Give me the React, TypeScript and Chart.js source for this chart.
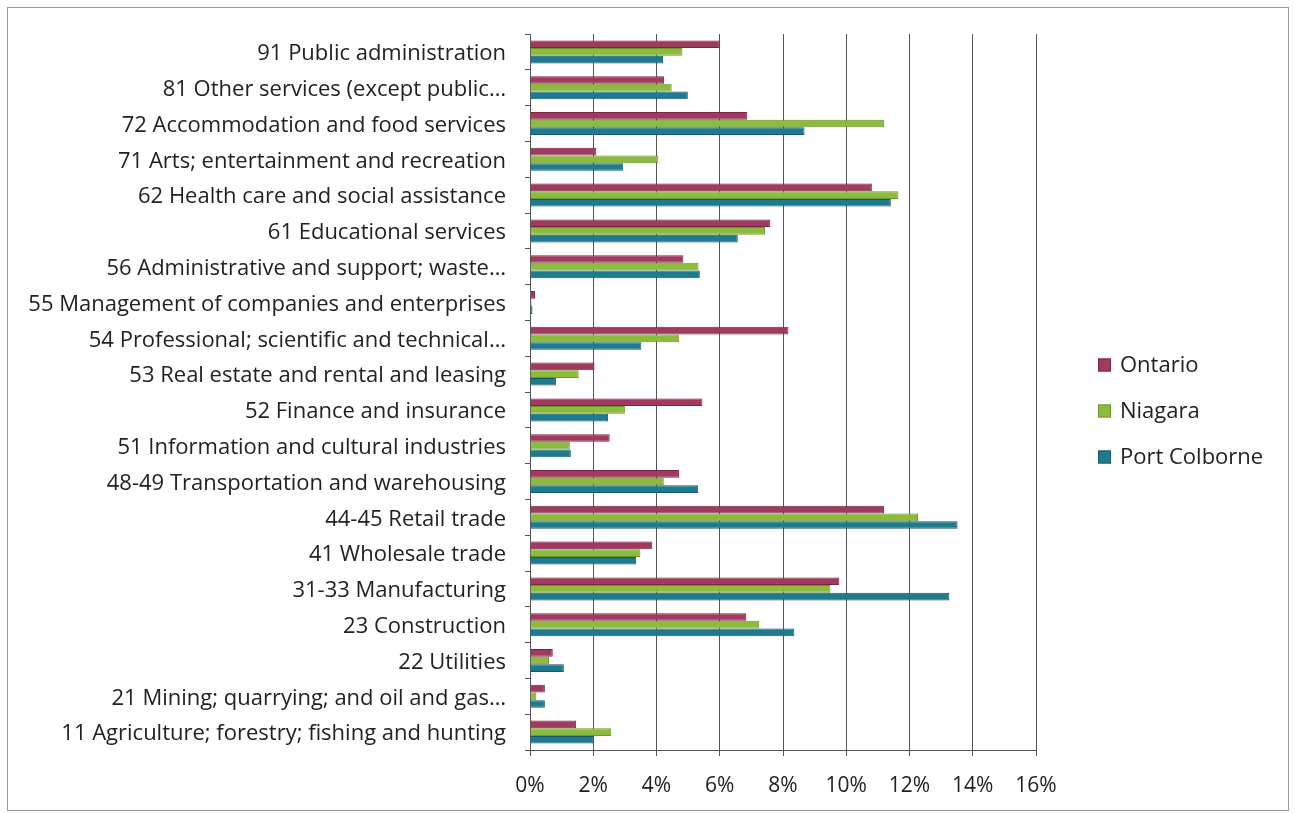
import React, { useEffect, useRef } from "react";
import { Chart, registerables } from "chart.js";

Chart.register(...registerables);

const categories = [
  "91 Public administration",
  "81 Other services (except public…",
  "72 Accommodation and food services",
  "71 Arts; entertainment and recreation",
  "62 Health care and social assistance",
  "61 Educational services",
  "56 Administrative and support; waste…",
  "55 Management of companies and enterprises",
  "54 Professional; scientific and technical…",
  "53 Real estate and rental and leasing",
  "52 Finance and insurance",
  "51 Information and cultural industries",
  "48-49 Transportation and warehousing",
  "44-45 Retail trade",
  "41 Wholesale trade",
  "31-33 Manufacturing",
  "23 Construction",
  "22 Utilities",
  "21 Mining; quarrying; and oil and gas…",
  "11 Agriculture; forestry; fishing and hunting",
];

const ontario = [6.0, 4.24, 6.87, 2.1, 10.81, 7.6, 4.85, 0.16, 8.17, 2.04, 5.45, 2.52, 4.71, 11.2, 3.87, 9.78, 6.84, 0.72, 0.47, 1.46];
const niagara = [4.82, 4.48, 11.2, 4.06, 11.65, 7.43, 5.33, 0.05, 4.72, 1.54, 3.0, 1.26, 4.23, 12.27, 3.49, 9.5, 7.25, 0.6, 0.2, 2.57];
const portColborne = [4.21, 4.99, 8.68, 2.95, 11.41, 6.57, 5.37, 0.08, 3.52, 0.82, 2.47, 1.29, 5.32, 13.52, 3.36, 13.26, 8.36, 1.07, 0.47, 2.0];

const seriesNames = ["Ontario", "Niagara", "Port Colborne"];
const xTicks = [0, 2, 4, 6, 8, 10, 12, 14, 16];

const FONT = "'Open Sans', Lato, sans-serif";
const W = 1280;
const H = 802;

const legendPlugin = {
  id: "sideLegend",
  afterDraw(chart: any) {
    const { ctx, chartArea } = chart;
    const x0 = chartArea.right + 62;
    const yMid = chart.height / 2 + 2;
    ctx.save();
    ctx.font = `22px ${FONT}`;
    ctx.textBaseline = "middle";
    ctx.textAlign = "left";
    chart.data.datasets.forEach((ds: any, i: number) => {
      const yc = yMid + (i - 1) * 46;
      ctx.fillStyle = ds.backgroundColor;
      ctx.fillRect(x0, yc - 6.5, 13, 13);
      ctx.strokeStyle = ds.borderColor;
      ctx.lineWidth = 1;
      ctx.strokeRect(x0 + 0.5, yc - 6, 12, 12);
      ctx.fillStyle = "#222";
      ctx.fillText(ds.label, x0 + 22, yc + 1);
    });
    ctx.restore();
  },
};

export default function App() {
  const ref = useRef<HTMLCanvasElement>(null);

  useEffect(() => {
    if (!ref.current) return;
    const chart = new Chart(ref.current, {
      type: "bar",
      data: {
        labels: categories,
        datasets: [
          {
            label: seriesNames[0],
            data: ontario,
            backgroundColor: "#A03A5E",
            borderColor: "#7A2444",
            borderWidth: 1,
          },
          {
            label: seriesNames[1],
            data: niagara,
            backgroundColor: "#8CBC3E",
            borderColor: "#6E962C",
            borderWidth: 1,
          },
          {
            label: seriesNames[2],
            data: portColborne,
            backgroundColor: "#1E7B8E",
            borderColor: "#155A6A",
            borderWidth: 1,
          },
        ],
      },
      options: {
        indexAxis: "y",
        animation: false,
        responsive: false,
        maintainAspectRatio: false,
        layout: { padding: { top: 26, right: 252, bottom: 0, left: 0 } },
        datasets: {
          bar: { categoryPercentage: 0.643, barPercentage: 1.0 },
        },
        plugins: {
          legend: { display: false },
          tooltip: { enabled: false },
        },
        scales: {
          x: {
            type: "linear",
            min: 0,
            max: 16,
            afterBuildTicks: (scale: any) => {
              scale.ticks = xTicks.map((v) => ({ value: v }));
            },
            afterFit: (scale: any) => {
              scale.height = 60;
              scale.paddingLeft = 0;
            },
            ticks: {
              stepSize: 2,
              padding: 17,
              color: "#222",
              font: { family: FONT, size: 21 },
              callback: (v: any) => `${v}%`,
            },
            grid: {
              color: "#555",
              lineWidth: 1,
              drawTicks: true,
              tickLength: 6,
            },
            border: { display: true, color: "#555", width: 1 },
          },
          y: {
            type: "category",
            afterFit: (scale: any) => {
              scale.width = 522;
              scale.paddingTop = 0;
              scale.paddingBottom = 0;
            },
            ticks: {
              padding: 19,
              labelOffset: 2,
              color: "#222",
              autoSkip: false,
              font: { family: FONT, size: 22 },
            },
            grid: {
              display: true,
              drawOnChartArea: false,
              drawTicks: true,
              tickLength: 5,
              color: "#555",
              offset: true,
            },
            border: { display: true, color: "#555", width: 1 },
          },
        },
      },
      plugins: [legendPlugin],
    });
    return () => chart.destroy();
  }, []);

  return (
    <div
      style={{
        position: "absolute",
        left: 7,
        top: 7,
        width: W,
        height: H,
        border: "1px solid #9a9a9a",
        background: "#fff",
      }}
    >
      <canvas ref={ref} width={W} height={H} style={{ display: "block", width: W, height: H }} />
    </div>
  );
}
